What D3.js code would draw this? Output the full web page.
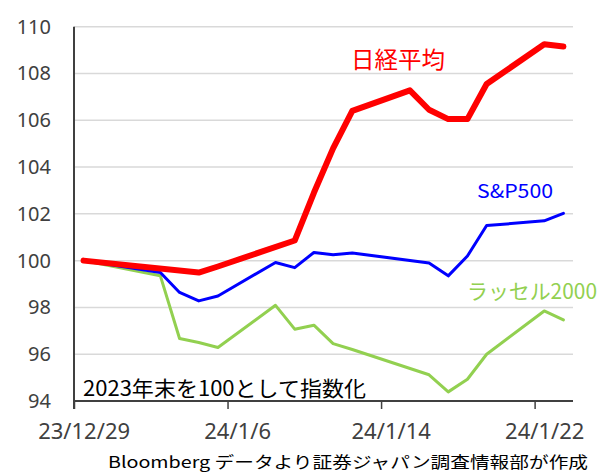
<!DOCTYPE html>
<html>
<head>
<meta charset="utf-8">
<script src="https://cdn.jsdelivr.net/npm/d3@7"></script>
<style>
  body { margin: 0; background: #fff; }
  svg { display: block; font-family: "Noto Sans", "Noto Sans CJK JP", sans-serif; }
</style>
</head>
<body>
<svg id="chart" width="610" height="472"></svg>
<script>
// 米国市場の営業日（S&P500・ラッセル2000）
const usDates = ['2023-12-29', '2024-01-02', '2024-01-03', '2024-01-04', '2024-01-05',
    '2024-01-08', '2024-01-09', '2024-01-10', '2024-01-11', '2024-01-12',
    '2024-01-16', '2024-01-17', '2024-01-18', '2024-01-19', '2024-01-22', '2024-01-23'];
// 東京市場の営業日（日経平均）
const jpDates = ['2023-12-29', '2024-01-04', '2024-01-05', '2024-01-09', '2024-01-10',
    '2024-01-11', '2024-01-12', '2024-01-15', '2024-01-16', '2024-01-17',
    '2024-01-18', '2024-01-19', '2024-01-22', '2024-01-23'];

const nikkeiValues = [100, 99.49, 99.75, 100.86, 102.9, 104.8, 106.4, 107.28, 106.45, 106.05, 106.05, 107.55, 109.25, 109.15];
const spValues = [100, 99.49, 98.64, 98.28, 98.49, 99.92, 99.7, 100.35, 100.25, 100.33, 99.9, 99.35, 100.2, 101.5, 101.7, 102.02];
const russellValues = [100, 99.35, 96.67, 96.5, 96.29, 98.09, 97.07, 97.24, 96.45, 96.2, 95.12, 94.39, 94.93, 96.0, 97.85, 97.47];

const yTicks = [94, 96, 98, 100, 102, 104, 106, 108, 110];
const xTickDates = ['2023-12-29', '2024-01-06', '2024-01-14', '2024-01-22'];
const xTickLabels = ['23/12/29', '24/1/6', '24/1/14', '24/1/22'];

const parse = d3.utcParse('%Y-%m-%d');

const svg = d3.select('#chart');
const plotLeft = 74, plotRight = 573, plotTop = 26.7, plotBottom = 401;

// 日付軸（1日ごとの区間の中央にデータ点）
const x = d3.scaleUtc()
    .domain([parse('2023-12-29'), parse('2024-01-24')])
    .range([plotLeft, plotRight]);
const halfDay = (x(parse('2023-12-30')) - x(parse('2023-12-29'))) / 2;
const y = d3.scaleLinear().domain([94, 110]).range([plotBottom, plotTop]);

// 目盛線
svg.append('g')
    .selectAll('line')
    .data(yTicks.filter(v => v > 94))
    .join('line')
    .attr('x1', plotLeft)
    .attr('x2', plotRight)
    .attr('y1', d => y(d))
    .attr('y2', d => y(d))
    .attr('stroke', '#d9d9d9')
    .attr('stroke-width', 1.5);

// Y軸
const yAxis = svg.append('g')
    .attr('transform', `translate(${plotLeft},0)`)
    .call(d3.axisLeft(y).tickValues(yTicks).tickSize(0).tickPadding(23));
yAxis.select('.domain').remove();
yAxis.selectAll('text')
    .attr('font-size', '20px')
    .attr('fill', '#404040')
    .attr('font-family', '"Noto Sans", sans-serif');

svg.append('line')
    .attr('x1', plotLeft).attr('x2', plotLeft)
    .attr('y1', plotTop).attr('y2', plotBottom + 8)
    .attr('stroke', '#404040')
    .attr('stroke-width', 2);

// X軸
const xAxis = svg.append('g')
    .attr('transform', `translate(0,${plotBottom})`)
    .call(d3.axisBottom(x)
        .tickValues(xTickDates.map(parse))
        .tickFormat((d, i) => xTickLabels[i])
        .tickSize(8)
        .tickPadding(14));
xAxis.select('.domain')
    .attr('d', `M${plotLeft},0H${plotRight}`)
    .attr('stroke', '#404040')
    .attr('stroke-width', 2);
xAxis.selectAll('.tick line').attr('stroke', '#404040').attr('stroke-width', 1.5);
xAxis.selectAll('text')
    .attr('x', halfDay)
    .attr('font-size', '22px')
    .attr('fill', '#404040')
    .attr('font-family', '"Noto Sans", sans-serif');

// 系列
const line = d3.line()
    .x(d => x(d.date) + halfDay)
    .y(d => y(d.value));

const series = [
    { dates: usDates, values: russellValues, color: '#92d050', width: 3 },
    { dates: usDates, values: spValues, color: '#0000ff', width: 3 },
    { dates: jpDates, values: nikkeiValues, color: '#ff0000', width: 6 }
];

series.forEach(s => {
    const pts = s.dates.map((d, i) => ({ date: parse(d), value: s.values[i] }));
    svg.append('path')
        .datum(pts)
        .attr('fill', 'none')
        .attr('stroke', s.color)
        .attr('stroke-width', s.width)
        .attr('stroke-linejoin', 'round')
        .attr('stroke-linecap', 'round')
        .attr('d', line);
});

// 系列ラベル・注記
const labels = [
    { text: '日経平均', x: 351, y: 58, color: '#ff0000', size: 23, len: 94 },
    { text: 'S&P500', x: 477, y: 189, color: '#0000ff', size: 19, len: 76 },
    { text: 'ラッセル2000', x: 467, y: 290, color: '#92d050', size: 21, len: 130 },
    { text: '2023年末を100として指数化', x: 83, y: 387, color: '#000000', size: 21, len: 283 },
    { text: 'Bloomberg データより証券ジャパン調査情報部が作成', x: 108, y: 461, color: '#000000', size: 16, len: 480 }
];

svg.append('g')
    .selectAll('text')
    .data(labels)
    .join('text')
    .attr('x', d => d.x)
    .attr('y', d => d.y)
    .attr('dominant-baseline', 'central')
    .attr('font-family', '"Noto Sans CJK JP", "Noto Sans", sans-serif')
    .attr('font-size', d => d.size + 'px')
    .attr('fill', d => d.color)
    .attr('textLength', d => d.len)
    .attr('lengthAdjust', 'spacingAndGlyphs')
    .text(d => d.text);
</script>
</body>
</html>
